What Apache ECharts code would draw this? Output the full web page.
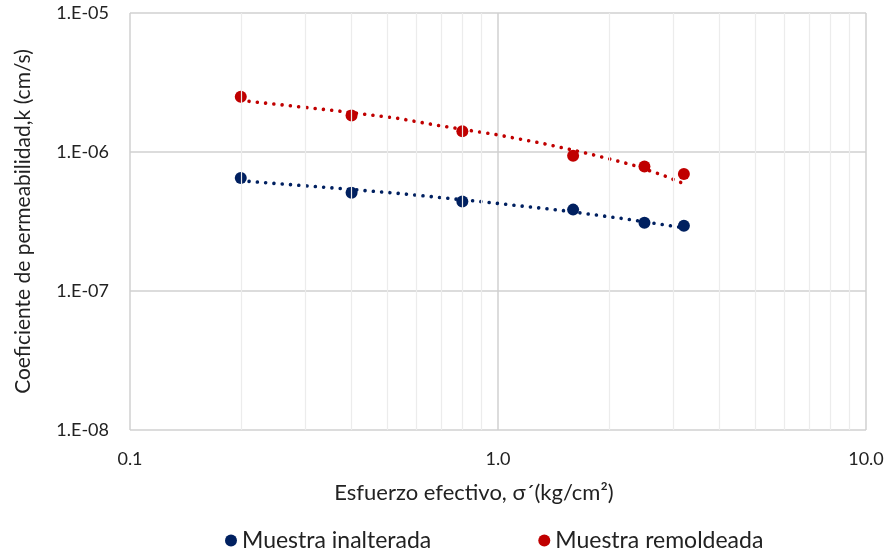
<!DOCTYPE html>
<html>
<head>
<meta charset="utf-8">
<script src="https://cdn.jsdelivr.net/npm/echarts@6/dist/echarts.min.js"></script>
<style>
html,body{margin:0;padding:0;background:#fff;}
#chart{width:889px;height:552px;}
</style>
</head>
<body>
<div id="chart"></div>
<script>
// Measured points
const stress = [0.2, 0.4, 0.8, 1.6, 2.5, 3.2];
const kInalterada = [6.5e-7, 5.1e-7, 4.4e-7, 3.85e-7, 3.1e-7, 2.95e-7];
const kRemoldeada = [2.5e-6, 1.83e-6, 1.41e-6, 9.4e-7, 7.85e-7, 6.95e-7];

// Trend lines
const trendInalteradaX = [0.2, 0.37, 0.54, 0.89, 1.49, 2.24, 3.03, 3.2];
const trendInalteradaY = [6.21e-7, 5.47e-7, 5.03e-7, 4.41e-7, 3.80e-7, 3.29e-7, 2.91e-7, 2.85e-7];
const trendRemoldeadaX = [0.2, 0.37, 0.54, 0.68, 0.98, 1.33, 1.8, 2.31, 2.81, 3.09, 3.2];
const trendRemoldeadaY = [2.35e-6, 1.97e-6, 1.74e-6, 1.56e-6, 1.34e-6, 1.15e-6, 9.6e-7, 8.1e-7, 6.8e-7, 6.14e-7, 5.91e-7];

// Axis ranges and minor grid values
const xMin = 0.1, xMax = 10;
const yMin = 1e-8, yMax = 1e-5;
const xMinorGrid = [0.2,0.3,0.4,0.5,0.6,0.7,0.8,0.9,2,3,4,5,6,7,8,9];
const yMinorMantissa = [2,3,4,5,6,7,8,9];
const yDecades = [1e-8, 1e-7, 1e-6];

const seriesNames = ['Muestra inalterada', 'Muestra remoldeada'];
const xTitle = 'Esfuerzo efectivo, σ´(kg/cm²)';
const yTitle = 'Coeficiente de permeabilidad,k (cm/s)';

const FONT = 'Lato';
const BLUE = '#002060', RED = '#C00000';

const yMinorGrid = [];
yDecades.forEach(d => yMinorMantissa.forEach(m => yMinorGrid.push(m * d)));

const zip = (a, b) => a.map((v, i) => [v, b[i]]);

const minorLines = xMinorGrid.map(v => ({xAxis: v})).concat(yMinorGrid.map(v => ({yAxis: v})));

const chart = echarts.init(document.getElementById('chart'), null, {renderer: 'canvas'});
chart.setOption({
  animation: false,
  backgroundColor: '#ffffff',
  textStyle: {fontFamily: FONT},
  grid: {left: 130, right: 23, top: 13, bottom: 122, containLabel: false},
  legend: {
    data: seriesNames.map(n => ({name: n, icon: 'circle', itemStyle: {opacity: 1}})),
    left: 220, top: 524,
    itemWidth: 12, itemHeight: 12, itemGap: 107,
    textStyle: {fontFamily: FONT, fontSize: 23, color: '#222'}
  },
  xAxis: {
    type: 'log', logBase: 10, min: xMin, max: xMax,
    name: xTitle, nameLocation: 'middle', nameGap: 52,
    nameTextStyle: {fontFamily: FONT, fontSize: 22, color: '#222', padding: [0, 48, 0, 0]},
    axisLine: {show: false}, axisTick: {show: false},
    axisLabel: {fontFamily: FONT, fontSize: 18, color: '#222', margin: 20,
      formatter: v => Number(v).toFixed(1)},
    splitLine: {show: true, lineStyle: {color: '#d0d0d0', width: 1.5}}
  },
  yAxis: {
    type: 'log', logBase: 10, min: yMin, max: yMax,
    name: yTitle, nameLocation: 'middle', nameGap: 96, nameRotate: 90,
    nameTextStyle: {fontFamily: FONT, fontSize: 21, color: '#222'},
    axisLine: {show: false}, axisTick: {show: false},
    axisLabel: {fontFamily: FONT, fontSize: 18, color: '#222', margin: 21,
      formatter: v => { const e = Math.round(Math.log10(v)); return '1.E' + (e < 0 ? '-' : '+') + String(Math.abs(e)).padStart(2, '0'); }},
    splitLine: {show: true, lineStyle: {color: '#d0d0d0', width: 1.5}}
  },
  series: [
    {
      name: 'minor-grid', type: 'line', data: [], silent: true, z: 0,
      markLine: {silent: true, symbol: 'none', label: {show: false},
        lineStyle: {color: '#ececec', width: 1.2, type: 'solid'},
        emphasis: {disabled: true},
        data: minorLines}
    },
    {
      name: 'trend-inalterada', type: 'line', data: zip(trendInalteradaX, trendInalteradaY),
      showSymbol: false, symbol: 'none', silent: true, z: 2,
      lineStyle: {color: BLUE, width: 3.6, type: [0.01, 8.3], cap: 'round'}
    },
    {
      name: 'trend-remoldeada', type: 'line', data: zip(trendRemoldeadaX, trendRemoldeadaY),
      showSymbol: false, symbol: 'none', silent: true, z: 2,
      lineStyle: {color: RED, width: 3.6, type: [0.01, 8.3], cap: 'round'}
    },
    {
      name: seriesNames[0], type: 'scatter', data: zip(stress, kInalterada),
      symbol: 'circle', symbolSize: 12, itemStyle: {color: BLUE, opacity: 1}, z: 3
    },
    {
      name: seriesNames[1], type: 'scatter', data: zip(stress, kRemoldeada),
      symbol: 'circle', symbolSize: 12, itemStyle: {color: RED, opacity: 1}, z: 3
    }
  ]
});
</script>
</body>
</html>
